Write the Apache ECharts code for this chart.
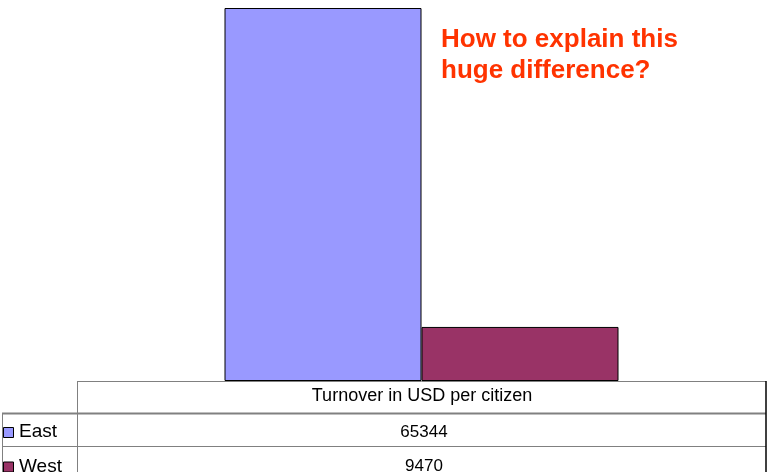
<!DOCTYPE html>
<html>
<head>
<meta charset="utf-8">
<script src="https://cdn.jsdelivr.net/npm/echarts@6/dist/echarts.min.js"></script>
<style>
html,body{margin:0;padding:0;background:#fff;}
#chart{width:767px;height:472px;}
</style>
</head>
<body>
<div id="chart"></div>
<script>
var categories = ['Turnover in USD per citizen'];
var seriesNames = ['East', 'West'];
var eastValues = [65344];
var westValues = [9470];
var seriesColors = ['#9999FF', '#993366'];
var titleLines = ['How to explain this', 'huge difference?'];

var chart = echarts.init(document.getElementById('chart'), null, {renderer: 'canvas'});

var FONT = 'Liberation Sans, Arial, sans-serif';
var gridColor = '#808080';
var graphics = [];
function hline(x1, x2, y, color, w) {
  graphics.push({type: 'line', shape: {x1: x1, y1: y, x2: x2, y2: y}, style: {stroke: color, lineWidth: w}, silent: true});
}
function vline(x, y1, y2, color, w) {
  graphics.push({type: 'line', shape: {x1: x, y1: y1, x2: x, y2: y2}, style: {stroke: color, lineWidth: w}, silent: true});
}
function txt(s, x, y, align, size, color, weight) {
  graphics.push({type: 'text', x: x, y: y, silent: true,
    style: {text: s, align: align, verticalAlign: 'middle', font: (weight || 'normal') + ' ' + size + 'px ' + FONT, fill: color}});
}
// table lines
hline(77, 766, 381.5, gridColor, 1);
hline(2, 766, 413.5, gridColor, 2);
hline(2, 766, 446.5, gridColor, 1);
vline(77.5, 381, 472, gridColor, 1);
vline(2.5, 413, 472, gridColor, 1);
vline(766, 381, 472, '#000000', 1.5);
// header
txt(categories[0], 422, 396, 'center', 18, '#000');
// rows
var rowY = [432, 466.5];
var rowVals = [eastValues[0], westValues[0]];
for (var i = 0; i < seriesNames.length; i++) {
  graphics.push({type: 'rect', shape: {x: 3.5, y: rowY[i] - 4.5, width: 10, height: 10},
    style: {fill: seriesColors[i], stroke: '#000', lineWidth: 1}, silent: true});
  txt(seriesNames[i], 19, rowY[i], 'left', 19, '#000');
  txt(String(rowVals[i]), 424, rowY[i], 'center', 17, '#000');
}
// title
txt(titleLines[0], 441, 40, 'left', 26, '#FF3300', 'bold');
txt(titleLines[1], 441, 71, 'left', 26, '#FF3300', 'bold');

var option = {
  animation: false,
  backgroundColor: '#ffffff',
  grid: {left: 77, right: 1, top: 8, bottom: 91, containLabel: false},
  xAxis: {
    type: 'category', data: categories,
    axisLine: {show: false}, axisTick: {show: false}, axisLabel: {show: false}, splitLine: {show: false}
  },
  yAxis: {
    type: 'value', min: 0, max: 'dataMax',
    axisLine: {show: false}, axisTick: {show: false}, axisLabel: {show: false}, splitLine: {show: false}
  },
  series: [
    {name: seriesNames[0], type: 'bar', data: eastValues, barWidth: 197, barGap: '0%',
     itemStyle: {color: seriesColors[0], borderColor: '#000', borderWidth: 1}},
    {name: seriesNames[1], type: 'bar', data: westValues, barWidth: 197, barGap: '0%',
     itemStyle: {color: seriesColors[1], borderColor: '#000', borderWidth: 1}}
  ],
  graphic: graphics
};
chart.setOption(option);
</script>
</body>
</html>
